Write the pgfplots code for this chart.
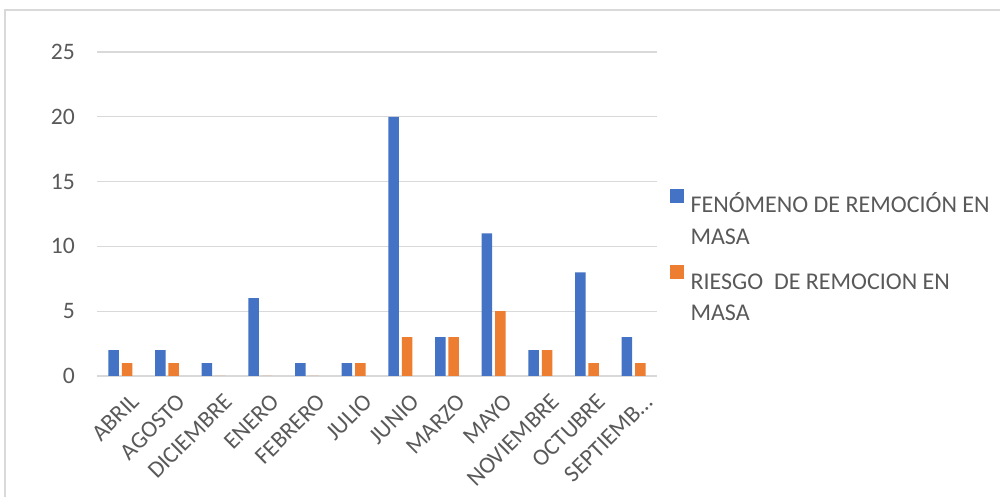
\documentclass[border=0pt]{standalone}
\usepackage{pgfplots}
\pgfplotsset{compat=1.18}
\usepackage{fontspec}
\setmainfont{Carlito}
\definecolor{serA}{HTML}{4472C4}
\definecolor{serB}{HTML}{ED7D31}
\definecolor{gridc}{HTML}{D9D9D9}
\definecolor{txt}{HTML}{595959}
\begin{document}
\fontsize{11.7}{15.5}\selectfont
\begin{tikzpicture}
\useasboundingbox (0,0) rectangle (500pt,248.5pt);
\draw[gridc, line width=0.7pt] (2.5pt,-10pt) rectangle (510pt,243.5pt);
\begin{axis}[
  at={(48.5pt,60.5pt)}, anchor=south west,
  scale only axis, width=280pt, height=162pt,
  ymin=0, ymax=25, ytick={0,5,10,15,20,25},
  xmin=-0.5, xmax=11.5,
  xtick={0,1,2,3,4,5,6,7,8,9,10,11},
  xticklabels={ABRIL,AGOSTO,DICIEMBRE,ENERO,FEBRERO,JULIO,JUNIO,MARZO,MAYO,NOVIEMBRE,OCTUBRE,{SEPTIEMB…}},
  /pgf/number format/assume math mode=true,
  axis x line=bottom, axis y line=left,
  x axis line style={gridc, line width=0.9pt, -},
  y axis line style={draw=none},
  major tick length=0pt,
  ymajorgrids, grid style={gridc, line width=0.6pt},
  tick label style={text=txt, font=\fontsize{11.8}{14}\selectfont},
  yticklabel style={xshift=-7pt},
  xticklabel style={rotate=45, anchor=north east, inner sep=1pt, yshift=-8pt, xshift=-1.5pt},
  ybar, bar width=5.25pt,
  legend style={at={(axis description cs:1.011,0.597)}, anchor=north west,
    draw=none, fill=none, text=txt, row sep=21.3pt,
    font=\fontsize{12}{15.7}\selectfont,
    /tikz/every odd column/.append style={column sep=1.5pt}},
  legend cell align=left,
  legend image code/.code={\fill[#1] (0pt,0.2pt) rectangle (7pt,7.2pt);},
]
\addplot[fill=serA, draw=none, bar shift=-3.35pt] coordinates {
  (0,2)(1,2)(2,1)(3,6)(4,1)(5,1)(6,20)(7,3)(8,11)(9,2)(10,8)(11,3)};
\addlegendentry{\begin{tabular}[t]{@{}l@{}}FENÓMENO DE REMOCIÓN EN\\MASA\end{tabular}}
\addplot[fill=serB, draw=none, bar shift=3.35pt] coordinates {
  (0,1)(1,1)(2,0)(3,0)(4,0)(5,1)(6,3)(7,3)(8,5)(9,2)(10,1)(11,1)};
\addlegendentry{\begin{tabular}[t]{@{}l@{}}RIESGO\ \ DE REMOCION EN\\MASA\end{tabular}}
\end{axis}
\end{tikzpicture}
\end{document}
